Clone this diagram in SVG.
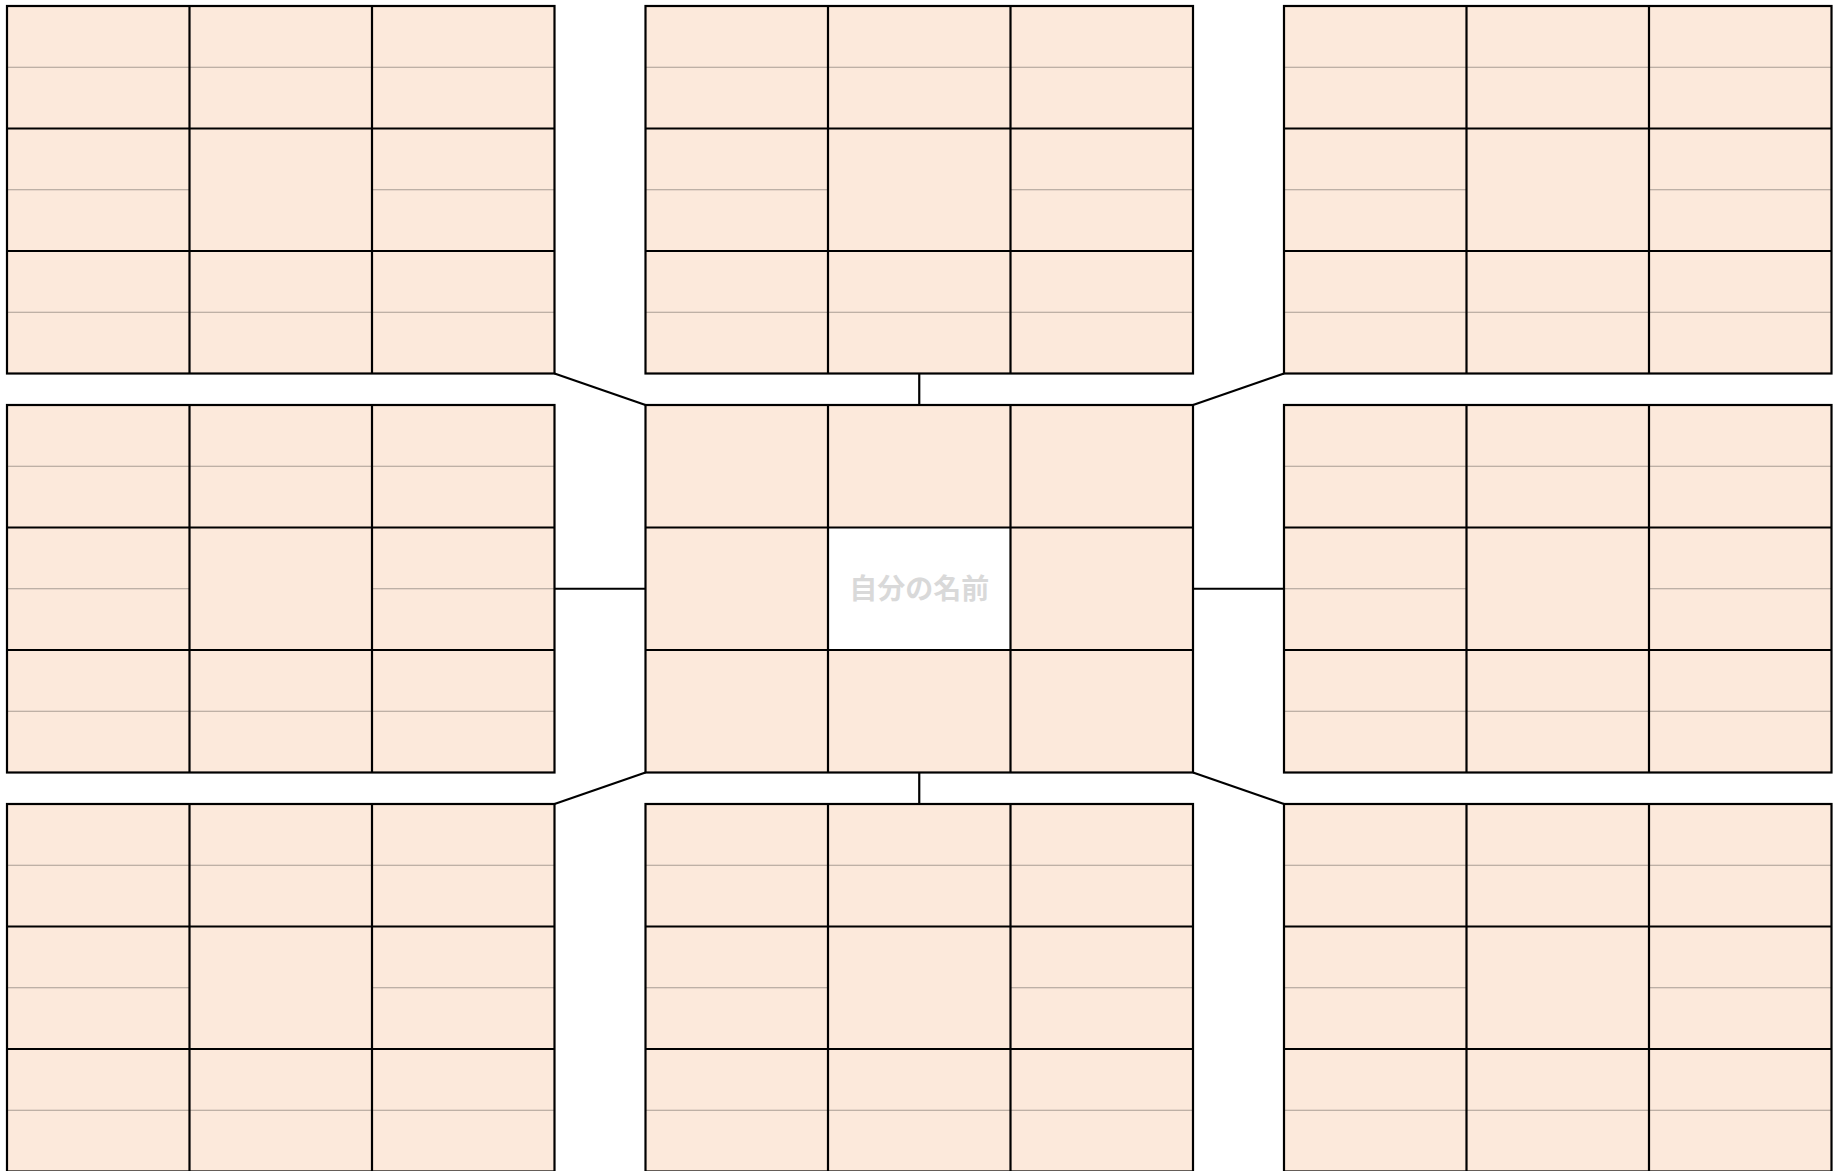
<svg xmlns="http://www.w3.org/2000/svg" xmlns:xlink="http://www.w3.org/1999/xlink" width="1837" height="1171" viewBox="0 0 1837 1171">
<style>
.bg{fill:#fce9db;stroke:none}
.thin{stroke:#a99d94;stroke-width:1;fill:none}
.thick{stroke:#000;stroke-width:2.2;fill:none}
.conn{stroke:#000;stroke-width:2.2;fill:none;stroke-linecap:butt}
.name{font-family:"Noto Sans CJK JP","Noto Sans CJK SC",sans-serif;font-weight:bold;font-size:28px;fill:#d9d9d9}
</style>
<defs>
<g id="outer-tpl">
<rect class="bg" x="0" y="0" width="547.5" height="367.5"/>
<path class="thin" d="M0 61.25H547.5M0 183.75H182.5M365 183.75H547.5M0 306.25H547.5"/>
<path class="thick" d="M182.5 0V367.5M365 0V367.5M0 122.5H547.5M0 245H547.5"/>
<rect class="thick" x="0" y="0" width="547.5" height="367.5"/>
</g>
</defs>
<rect x="0" y="0" width="1837" height="1171" fill="#fff"/>
<g id="connectors">
<line class="conn" x1="554.5" y1="373.5" x2="645.5" y2="405"/>
<line class="conn" x1="919.25" y1="373.5" x2="919.25" y2="405"/>
<line class="conn" x1="1193" y1="405" x2="1284" y2="373.5"/>
<line class="conn" x1="554.5" y1="588.75" x2="645.5" y2="588.75"/>
<line class="conn" x1="1193" y1="588.75" x2="1284" y2="588.75"/>
<line class="conn" x1="554.5" y1="804" x2="645.5" y2="772.5"/>
<line class="conn" x1="919.25" y1="772.5" x2="919.25" y2="804"/>
<line class="conn" x1="1193" y1="772.5" x2="1284" y2="804"/>
</g>
<g id="block-top-left" transform="translate(7,6)"><use xlink:href="#outer-tpl" href="#outer-tpl"/></g>
<g id="block-top-center" transform="translate(645.5,6)"><use xlink:href="#outer-tpl" href="#outer-tpl"/></g>
<g id="block-top-right" transform="translate(1284,6)"><use xlink:href="#outer-tpl" href="#outer-tpl"/></g>
<g id="block-middle-left" transform="translate(7,405)"><use xlink:href="#outer-tpl" href="#outer-tpl"/></g>
<g id="block-middle-right" transform="translate(1284,405)"><use xlink:href="#outer-tpl" href="#outer-tpl"/></g>
<g id="block-bottom-left" transform="translate(7,804)"><use xlink:href="#outer-tpl" href="#outer-tpl"/></g>
<g id="block-bottom-center" transform="translate(645.5,804)"><use xlink:href="#outer-tpl" href="#outer-tpl"/></g>
<g id="block-bottom-right" transform="translate(1284,804)"><use xlink:href="#outer-tpl" href="#outer-tpl"/></g>
<g id="block-center" transform="translate(645.5,405)">
<rect class="bg" x="0" y="0" width="547.5" height="367.5"/>
<rect x="182.5" y="122.5" width="182.5" height="122.5" fill="#fff"/>
<path class="thick" d="M182.5 0V367.5M365 0V367.5M0 122.5H547.5M0 245H547.5"/>
<rect class="thick" x="0" y="0" width="547.5" height="367.5"/>
<text class="name" x="273.75" y="193.5" text-anchor="middle">自分の名前</text>
</g>
</svg>
